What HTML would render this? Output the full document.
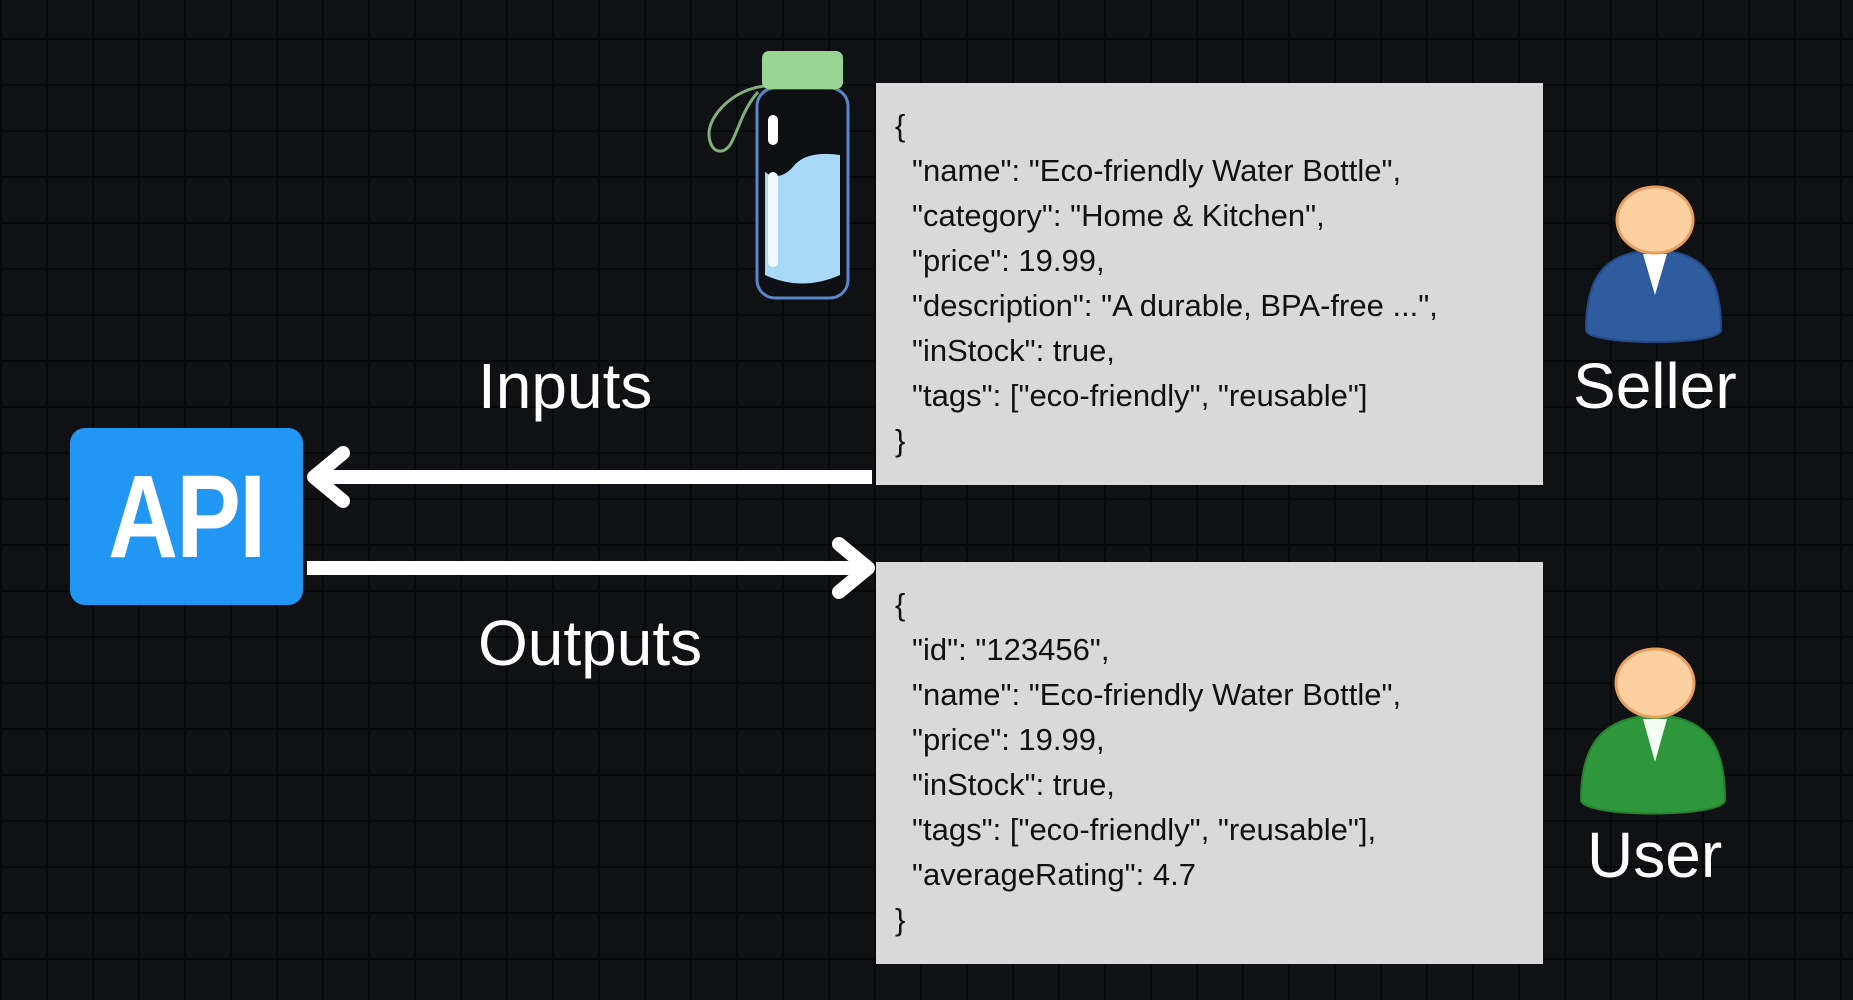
<!DOCTYPE html>
<html><head><meta charset="utf-8"><style>
html,body{margin:0;padding:0}
body{width:1853px;height:1000px;position:relative;overflow:hidden;background:#101115;
background-image:linear-gradient(#07080a 2px,transparent 2px),linear-gradient(90deg,#07080a 2px,transparent 2px);
background-size:46px 46px;background-position:0 -8px;font-family:"Liberation Sans",sans-serif}
.box{position:absolute;left:876px;width:667px;background:#d9d9d9;color:#111;font-size:31px;}
.box div{position:absolute;white-space:pre;}
.t{position:absolute;color:#fff;font-size:64px;white-space:nowrap}
</style></head><body>
<div style="position:absolute;left:70px;top:428px;width:233px;height:177px;background:#2196f3;border-radius:15px;"></div>
<div style="position:absolute;left:70px;top:428px;width:233px;height:177px;display:flex;align-items:center;justify-content:center;color:#fff;font-weight:bold;font-size:118px;"><span style="display:inline-block;transform:scaleX(0.82);letter-spacing:-2px">API</span></div>

<svg width="1853" height="1000" style="position:absolute;left:0;top:0">
<line x1="316" y1="477" x2="872" y2="477" stroke="#fff" stroke-width="14"/>
<polyline points="343,453 314,477 343,501" fill="none" stroke="#fff" stroke-width="14" stroke-linecap="round" stroke-linejoin="round"/>
<line x1="307" y1="568" x2="866" y2="568" stroke="#fff" stroke-width="14"/>
<polyline points="839,544 868,568 839,592" fill="none" stroke="#fff" stroke-width="14" stroke-linecap="round" stroke-linejoin="round"/>
<!-- bottle -->
<path d="M766,86 C735,88 708,115 709,135 C710,152 722,156 730,145 C738,132 742,110 758,92" fill="none" stroke="#7fb07a" stroke-width="3"/>
<rect x="757" y="88" width="91" height="210" rx="18" fill="#0f1014" stroke="#5b86c9" stroke-width="3"/>
<path d="M765,172 Q778,182 792,168 Q805,150 840,155 L840,275 Q802,292 765,275 Z" fill="#a8daf8"/>
<rect x="768" y="115" width="10" height="30" rx="5" fill="#fff"/>
<rect x="768" y="172" width="10" height="95" rx="5" fill="#f4f8ff"/>
<rect x="762" y="51" width="81" height="38" rx="7" fill="#98d494"/>
<!-- seller -->
<path d="M1586,330 C1586,270 1610,252 1655,250 C1700,252 1721,270 1721,330 C1721,346 1586,346 1586,330 Z" fill="#2f5c9e" stroke="#244a85" stroke-width="2"/>
<polygon points="1643,254 1667,254 1655,295" fill="#fff"/>
<ellipse cx="1655" cy="220" rx="38" ry="33" fill="#fdd0a2" stroke="#e8a060" stroke-width="3"/>
<!-- user -->
<path d="M1581,800 C1581,738 1608,717 1655,715 C1702,717 1725,738 1725,800 C1725,818 1581,818 1581,800 Z" fill="#2f973b" stroke="#27802f" stroke-width="2"/>
<polygon points="1643,719 1667,719 1655,762" fill="#f4fff4"/>
<ellipse cx="1655" cy="683" rx="39" ry="34" fill="#fdd0a2" stroke="#e8a060" stroke-width="3"/>
</svg>

<div class="t" style="left:478px;top:349px">Inputs</div>
<div class="t" style="left:478px;top:606px">Outputs</div>
<div class="t" style="left:1573px;top:349px">Seller</div>
<div class="t" style="left:1587px;top:818px">User</div>

<div class="box" style="top:83px;height:402px">
<div style="left:19px;top:25px">{</div>
<div style="left:36px;top:70px">"name": "Eco-friendly Water Bottle",</div>
<div style="left:36px;top:115px">"category": "Home &amp; Kitchen",</div>
<div style="left:36px;top:160px">"price": 19.99,</div>
<div style="left:36px;top:205px">"description": "A durable, BPA-free ...",</div>
<div style="left:36px;top:250px">"inStock": true,</div>
<div style="left:36px;top:295px">"tags": ["eco-friendly", "reusable"]</div>
<div style="left:19px;top:340px">}</div>
</div>
<div class="box" style="top:562px;height:402px">
<div style="left:19px;top:25px">{</div>
<div style="left:36px;top:70px">"id": "123456",</div>
<div style="left:36px;top:115px">"name": "Eco-friendly Water Bottle",</div>
<div style="left:36px;top:160px">"price": 19.99,</div>
<div style="left:36px;top:205px">"inStock": true,</div>
<div style="left:36px;top:250px">"tags": ["eco-friendly", "reusable"],</div>
<div style="left:36px;top:295px">"averageRating": 4.7</div>
<div style="left:19px;top:340px">}</div>
</div>
</body></html>
